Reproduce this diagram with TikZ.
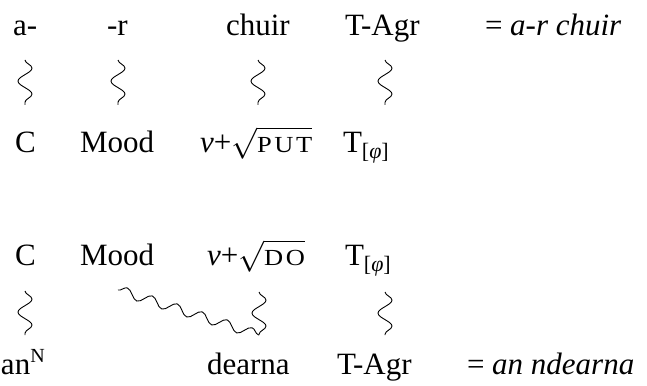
\RequirePackage{fix-cm}
\documentclass[tikz,border=0pt]{standalone}
\usepackage{fontspec}
\usepackage{graphicx}
\setmainfont{Liberation Serif}
\usetikzlibrary{decorations.pathmorphing}
\newcommand{\fakesc}[1]{\scalebox{1.15}[1]{\fontsize{23}{23}\selectfont\addfontfeature{LetterSpace=10}#1}}
\newcommand{\lowsub}[1]{\raisebox{-6pt}{\fontsize{22}{22}\selectfont #1}}
\newcommand{\highsup}[1]{\raisebox{12pt}{\fontsize{20}{20}\selectfont #1}}
\begin{document}
\begin{tikzpicture}[x=1pt,y=-1pt,
  word/.style={anchor=base west, inner sep=0pt, outer sep=0pt, font=\fontsize{31}{37}\selectfont},
  squig/.style={decorate, decoration={snake, amplitude=7pt, segment length=26pt}, line width=0.9pt},
  longsquig/.style={decorate, decoration={snake, amplitude=4.8pt, segment length=26.2pt}, line width=0.9pt}]
\useasboundingbox (0,0) rectangle (647,385);
% row 1
\node[word] (r1a) at (13,36) {a-};
\node[word] (r1b) at (107,36) {-r};
\node[word] (r1c) at (226,36) {chuir};
\node[word] (r1d) at (345,36) {T-Agr};
\node[word] (r1e) at (485,36) {= \textit{a-r chuir}};
% row 2
\node[word] (r2a) at (15,152) {C};
\node[word] (r2b) at (80,152) {Mood};
\node[word] (r2c) at (200,152) {{\itshape ν}+$\sqrt{\hbox{\fakesc{PUT}}}$};
\node[word] (r2d) at (343,152) {T\lowsub{[{\itshape φ}]}};
% row 3
\node[word] (r3a) at (15,265) {C};
\node[word] (r3b) at (80,265) {Mood};
\node[word] (r3c) at (207,265) {{\itshape ν}+$\sqrt{\hbox{\fakesc{DO}}}$};
\node[word] (r3d) at (345,265) {T\lowsub{[{\itshape φ}]}};
% row 4
\node[word] (r4a) at (1,374) {an\highsup{N}};
\node[word] (r4c) at (207,374) {dearna};
\node[word] (r4d) at (337,374) {T-Agr};
\node[word] (r4e) at (467,374) {= \textit{an ndearna}};
% squiggle end points
\coordinate (p1t) at (25,60);  \coordinate (p1b) at (25,105);
\coordinate (p2t) at (118,60); \coordinate (p2b) at (118,105);
\coordinate (p3t) at (258,60); \coordinate (p3b) at (258,105);
\coordinate (p4t) at (385,60); \coordinate (p4b) at (385,105);
\coordinate (q1t) at (25,291); \coordinate (q1b) at (25,335);
\coordinate (q2t) at (118,290);
\coordinate (q3t) at (259,292); \coordinate (q3b) at (259,335);
\coordinate (q4t) at (385,292); \coordinate (q4b) at (385,335);
\draw[squig] (p1t) -- (p1b);
\draw[squig] (p2t) -- (p2b);
\draw[squig] (p3t) -- (p3b);
\draw[squig] (p4t) -- (p4b);
\draw[squig] (q1t) -- (q1b);
\draw[longsquig] (q2t) -- (q3b);
\draw[squig] (q3t) -- (q3b);
\draw[squig] (q4t) -- (q4b);
\end{tikzpicture}
\end{document}
